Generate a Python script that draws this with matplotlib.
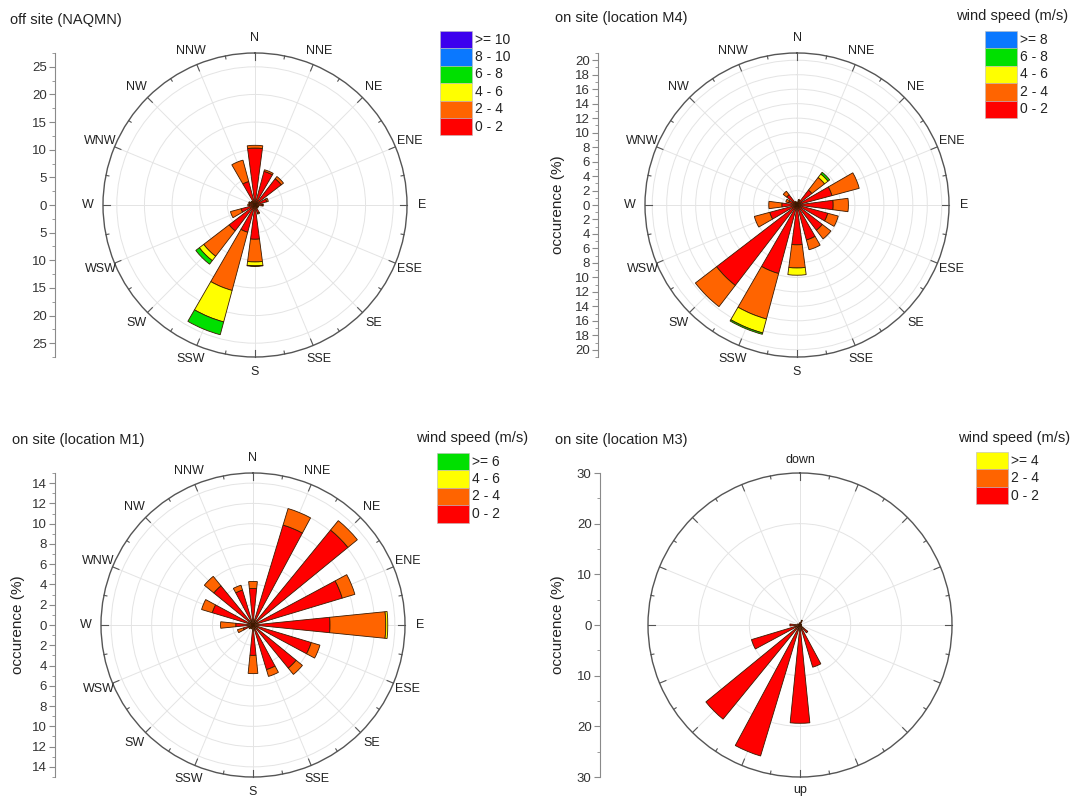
import numpy as np
import matplotlib
matplotlib.use("Agg")
import matplotlib.pyplot as plt
from matplotlib.patches import Rectangle
from matplotlib.ticker import MultipleLocator, FuncFormatter

plt.rcParams['font.family'] = ['Liberation Sans', 'DejaVu Sans']

# ---------------- data ----------------
directions = ['N', 'NNE', 'NE', 'ENE', 'E', 'ESE', 'SE', 'SSE',
              'S', 'SSW', 'SW', 'WSW', 'W', 'WNW', 'NW', 'NNW']

# off site (NAQMN), occurrence (%) per speed class
naqmn_0_2 = [10.3, 6.3, 6.0, 2.2, 1.3, 0.6, 0.6, 1.5, 6.2, 5.1, 5.9, 2.6, 1.0, 1.0, 0.8, 4.4]
naqmn_2_4 = [0.5, 0.3, 0.5, 0.3, 0.2, 0.1, 0.1, 0.2, 4.1, 10.9, 5.8, 2.0, 0.3, 0.2, 0.1, 4.0]
naqmn_4_6 = [0, 0, 0, 0, 0, 0, 0, 0, 0.7, 5.9, 1.0, 0, 0, 0, 0, 0]
naqmn_6_8 = [0, 0, 0, 0, 0, 0, 0, 0, 0.1, 2.4, 0.8, 0, 0, 0, 0, 0]
naqmn_8_10 = [0] * 16
naqmn_ge10 = [0] * 16
naqmn_classes = ['0 - 2', '2 - 4', '4 - 6', '6 - 8', '8 - 10', '>= 10']

# on site (location M4)
m4_0_2 = [0.3, 0.6, 2.6, 5.0, 5.0, 4.4, 4.4, 5.0, 5.5, 9.8, 14.0, 3.9, 2.1, 1.2, 1.8, 0.4]
m4_2_4 = [0.1, 0.2, 2.2, 3.9, 2.1, 1.5, 1.5, 1.4, 3.2, 6.5, 3.7, 2.2, 1.8, 0.4, 0.6, 0.1]
m4_4_6 = [0, 0, 0.6, 0, 0, 0, 0, 0, 1.0, 2.0, 0, 0, 0, 0, 0, 0]
m4_6_8 = [0, 0, 0.3, 0, 0, 0, 0, 0, 0, 0.2, 0, 0, 0, 0, 0, 0]
m4_ge8 = [0] * 16
m4_classes = ['0 - 2', '2 - 4', '4 - 6', '6 - 8', '>= 8']

# on site (location M1)
m1_0_2 = [3.6, 10.3, 12.1, 9.2, 7.6, 6.0, 5.5, 4.6, 3.0, 0.3, 0.4, 1.0, 1.7, 4.2, 5.0, 3.6]
m1_2_4 = [0.7, 1.7, 1.2, 1.3, 5.5, 0.9, 0.8, 0.7, 1.8, 0.1, 0.1, 0.6, 1.5, 1.1, 1.2, 0.5]
m1_4_6 = [0, 0, 0, 0, 0.2, 0, 0, 0, 0, 0, 0, 0, 0, 0, 0, 0]
m1_ge6 = [0] * 16
m1_classes = ['0 - 2', '2 - 4', '4 - 6', '>= 6']

# on site (location M3)
m3_0_2 = [0.5, 1.0, 0.3, 0.3, 0.3, 0.3, 2.0, 8.7, 19.4, 27.0, 24.0, 10.0, 2.0, 0.5, 0.3, 0.3]
m3_2_4 = [0] * 16
m3_ge4 = [0] * 16
m3_classes = ['0 - 2', '2 - 4', '>= 4']

# ---------------- style ----------------
C_RED, C_ORA, C_YEL, C_GRN, C_BLU, C_PUR = '#ff0000', '#ff6400', '#ffff00', '#00e000', '#0a78ff', '#3c00ee'

W, H = 1074, 798
fig = plt.figure(figsize=(W / 100, H / 100), dpi=100)
fig.patch.set_facecolor('white')

TXT = '#222222'


def fx(x):
    return x / W


def fy(y):
    return 1 - y / H


def rose(center, rmax, rings, major, minor, axis_x, series, colors, classes,
         title, title_xy, legend_xy, header_xy=None, ylabel_x=None,
         width_deg=15, dir_labels=None):
    cx, cy = center
    R = 152
    ax = fig.add_axes([fx(cx - R), fy(cy + R), 2 * R / W, 2 * R / H], projection='polar')
    ax.set_theta_zero_location('N')
    ax.set_theta_direction(-1)
    ax.set_rlim(0, rmax)
    ax.set_rticks(rings)
    ax.set_yticklabels([])
    theta = np.deg2rad(np.arange(16) * 22.5)
    ax.set_xticks(theta)
    ax.set_xticklabels([])
    ax.tick_params(axis='both', length=0)
    ax.grid(True, color='#e4e4e4', lw=0.7)
    ax.spines['polar'].set_color('#555555')
    ax.spines['polar'].set_linewidth(1.0)
    ax.set_facecolor('white')

    # stacked bars
    bottom = np.zeros(16)
    w = np.deg2rad(width_deg)
    for vals, col in zip(series, colors):
        vals = np.asarray(vals, dtype=float)
        mask = vals > 0
        if mask.any():
            ax.bar(theta[mask], vals[mask], width=w, bottom=bottom[mask],
                   color=col, edgecolor='#3a1a00', linewidth=0.6, zorder=3)
        bottom += vals

    # ticks on outer circle
    for i in range(32):
        a = np.deg2rad(i * 11.25)
        frac = 0.955 if i % 2 == 0 else 0.98
        ax.plot([a, a], [rmax * frac, rmax], color='#555555', lw=0.8, zorder=4, clip_on=False)

    # direction labels
    if dir_labels is None:
        for a, lab in zip(theta, directions):
            ax.text(a, rmax * 1.1, lab, ha='center', va='center', fontsize=9, color=TXT)
    else:
        for a, lab in dir_labels:
            ax.text(np.deg2rad(a), rmax * 1.085, lab, ha='center', va='center', fontsize=9, color=TXT)

    # left occurrence axis
    lax = fig.add_axes([fx(axis_x), fy(cy + R), 0.0005, 2 * R / H])
    lax.set_ylim(-rmax, rmax)
    lax.set_xticks([])
    for s in ['right', 'top', 'bottom']:
        lax.spines[s].set_visible(False)
    lax.spines['left'].set_color('#8a8a8a')
    lax.yaxis.set_major_locator(MultipleLocator(major))
    lax.yaxis.set_minor_locator(MultipleLocator(minor))
    lax.yaxis.set_major_formatter(FuncFormatter(lambda v, p: f"{abs(v):g}"))
    lax.tick_params(axis='y', which='major', length=4, color='#8a8a8a', labelsize=9.5,
                    labelcolor='#333333', pad=2)
    lax.tick_params(axis='y', which='minor', length=2, color='#8a8a8a')
    lax.patch.set_alpha(0)

    if ylabel_x is not None:
        fig.text(fx(ylabel_x), fy(cy), 'occurence (%)', rotation=90, ha='center', va='center',
                 fontsize=11, color=TXT)

    fig.text(fx(title_xy[0]), fy(title_xy[1]), title, ha='left', va='center', fontsize=10.5, color=TXT)
    if header_xy is not None:
        fig.text(fx(header_xy[0]), fy(header_xy[1]), 'wind speed (m/s)', ha='right', va='center',
                 fontsize=10.5, color=TXT)

    # legend (top = highest class)
    lx, ly = legend_xy
    bw, bh = 32, 17.4
    n = len(classes)
    for k in range(n):
        idx = n - 1 - k
        y0 = ly + k * bh
        fig.patches.append(Rectangle((fx(lx), fy(y0 + bh)), bw / W, bh / H, transform=fig.transFigure,
                                     facecolor=colors[idx], edgecolor='#bbbbbb', lw=0.4))
        fig.text(fx(lx + bw + 3), fy(y0 + bh / 2), classes[idx], ha='left', va='center',
                 fontsize=10, color=TXT)
    return ax


rose((255, 205), 27.5, [5, 10, 15, 20, 25], 5, 2.5, 55,
     [naqmn_0_2, naqmn_2_4, naqmn_4_6, naqmn_6_8, naqmn_8_10, naqmn_ge10],
     [C_RED, C_ORA, C_YEL, C_GRN, C_BLU, C_PUR], naqmn_classes,
     'off site (NAQMN)', (10, 20), (440, 31), header_xy=None, ylabel_x=None, width_deg=15)

rose((797, 205), 21, list(range(2, 21, 2)), 2, 1, 598,
     [m4_0_2, m4_2_4, m4_4_6, m4_6_8, m4_ge8],
     [C_RED, C_ORA, C_YEL, C_GRN, C_BLU], m4_classes,
     'on site (location M4)', (555, 18), (985, 31), header_xy=(1068, 16), ylabel_x=558, width_deg=15)

rose((253, 625), 15, list(range(2, 15, 2)), 2, 1, 55,
     [m1_0_2, m1_2_4, m1_4_6, m1_ge6],
     [C_RED, C_ORA, C_YEL, C_GRN], m1_classes,
     'on site (location M1)', (12, 440), (437, 453), header_xy=(528, 438), ylabel_x=18, width_deg=11.5)

rose((800, 625), 30, [10, 20], 10, 5, 600,
     [m3_0_2, m3_2_4, m3_ge4],
     [C_RED, C_ORA, C_YEL], m3_classes,
     'on site (location M3)', (555, 440), (976, 452), header_xy=(1070, 438), ylabel_x=558,
     width_deg=11.5, dir_labels=[(0, 'down'), (180, 'up')])

fig.savefig('out.png', dpi=100, facecolor='white')
